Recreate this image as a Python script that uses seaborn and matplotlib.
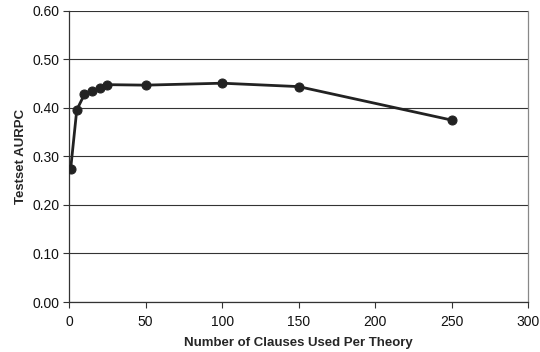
import matplotlib
matplotlib.use("Agg")
import matplotlib.pyplot as plt
import seaborn as sns
import pandas as pd

sns.set_theme(style="white")
plt.rcParams["font.family"] = ["Liberation Sans", "DejaVu Sans"]

# data
clauses = [1, 5, 10, 15, 20, 25, 50, 100, 150, 250]
aurpc = [0.274, 0.396, 0.428, 0.434, 0.442, 0.448, 0.447, 0.451, 0.444, 0.375]
x_ticks = [0, 50, 100, 150, 200, 250, 300]
y_ticks = [0.0, 0.1, 0.2, 0.3, 0.4, 0.5, 0.6]

df = pd.DataFrame({"clauses": clauses, "aurpc": aurpc})

fig, ax = plt.subplots(figsize=(5.4, 3.52), dpi=100)
fig.subplots_adjust(left=0.128, right=0.978, top=0.969, bottom=0.142)

sns.lineplot(data=df, x="clauses", y="aurpc", ax=ax, color="#222222",
             linewidth=2, marker="o", markersize=6.5,
             markeredgecolor="#222222", zorder=3)

ax.set_xlim(0, 300)
ax.set_ylim(0, 0.6)
ax.set_xticks(x_ticks)
ax.set_yticks(y_ticks)
ax.set_yticklabels([f"{v:.2f}" for v in y_ticks])

ax.yaxis.grid(True, color="#333333", linewidth=0.8)
ax.xaxis.grid(False)

for side in ["left", "bottom"]:
    ax.spines[side].set_color("#333333")
    ax.spines[side].set_linewidth(0.9)
ax.spines["right"].set_color("#888888")
ax.spines["right"].set_linewidth(0.9)
ax.spines["top"].set_visible(False)

ax.tick_params(axis="both", direction="out", length=4, width=0.8,
               color="#333333", labelsize=10, labelcolor="#111111", pad=3)
ax.tick_params(axis="x", bottom=True, pad=5)
ax.tick_params(axis="y", left=True)

ax.set_xlabel("Number of Clauses Used Per Theory", fontsize=9.5,
              fontweight="bold", labelpad=6)
ax.set_ylabel("Testset AURPC", fontsize=9.5, fontweight="bold", labelpad=4)

fig.savefig("out.png", dpi=100)
plt.close(fig)
